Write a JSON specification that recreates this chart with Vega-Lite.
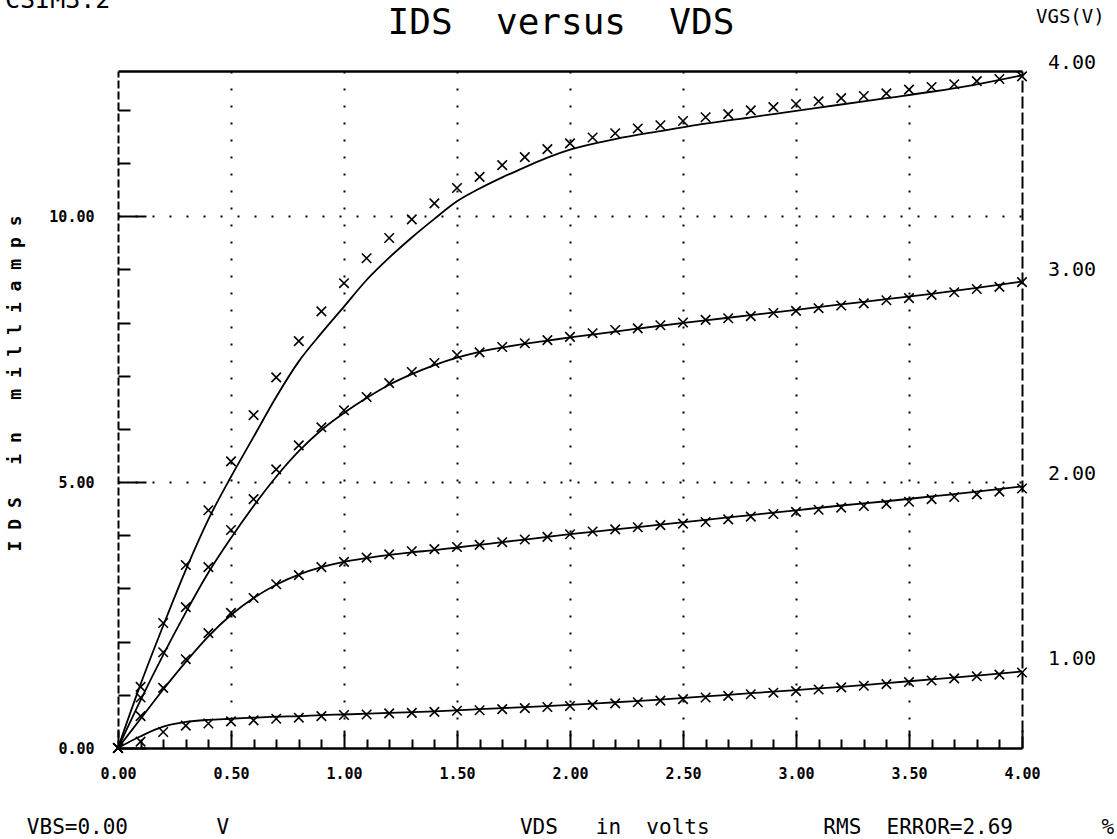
{
  "$schema": "https://vega.github.io/schema/vega-lite/v6.json",
  "width": 904,
  "height": 677,
  "autosize": {"type": "none"},
  "padding": {"left": 118, "top": 71, "right": 95, "bottom": 91},
  "background": "white",
  "config": {"view": {"stroke": null}},
  "datasets": {
    "model": [
      {"vgs":"4.00","vds":0,"ids":0},{"vgs":"4.00","vds":0.1,"ids":1.2},{"vgs":"4.00","vds":0.2,"ids":2.3},{"vgs":"4.00","vds":0.3,"ids":3.35},{"vgs":"4.00","vds":0.4,"ids":4.3},{"vgs":"4.00","vds":0.5,"ids":5.1},{"vgs":"4.00","vds":0.6,"ids":5.85},{"vgs":"4.00","vds":0.7,"ids":6.6},{"vgs":"4.00","vds":0.8,"ids":7.27},{"vgs":"4.00","vds":0.9,"ids":7.8},{"vgs":"4.00","vds":1.0,"ids":8.3},{"vgs":"4.00","vds":1.1,"ids":8.8},{"vgs":"4.00","vds":1.2,"ids":9.22},{"vgs":"4.00","vds":1.3,"ids":9.6},{"vgs":"4.00","vds":1.4,"ids":9.95},{"vgs":"4.00","vds":1.5,"ids":10.28},{"vgs":"4.00","vds":1.6,"ids":10.52},{"vgs":"4.00","vds":1.7,"ids":10.73},{"vgs":"4.00","vds":1.8,"ids":10.92},{"vgs":"4.00","vds":1.9,"ids":11.1},{"vgs":"4.00","vds":2.0,"ids":11.25},{"vgs":"4.00","vds":2.2,"ids":11.45},{"vgs":"4.00","vds":2.4,"ids":11.6},{"vgs":"4.00","vds":2.6,"ids":11.74},{"vgs":"4.00","vds":2.8,"ids":11.86},{"vgs":"4.00","vds":3.0,"ids":11.98},{"vgs":"4.00","vds":3.2,"ids":12.1},{"vgs":"4.00","vds":3.4,"ids":12.22},{"vgs":"4.00","vds":3.6,"ids":12.34},{"vgs":"4.00","vds":3.8,"ids":12.48},{"vgs":"4.00","vds":4.0,"ids":12.65},
      {"vgs":"3.00","vds":0,"ids":0},{"vgs":"3.00","vds":0.1,"ids":0.9},{"vgs":"3.00","vds":0.2,"ids":1.75},{"vgs":"3.00","vds":0.3,"ids":2.55},{"vgs":"3.00","vds":0.4,"ids":3.3},{"vgs":"3.00","vds":0.5,"ids":3.95},{"vgs":"3.00","vds":0.6,"ids":4.55},{"vgs":"3.00","vds":0.7,"ids":5.1},{"vgs":"3.00","vds":0.8,"ids":5.58},{"vgs":"3.00","vds":0.9,"ids":5.98},{"vgs":"3.00","vds":1.0,"ids":6.3},{"vgs":"3.00","vds":1.1,"ids":6.58},{"vgs":"3.00","vds":1.2,"ids":6.83},{"vgs":"3.00","vds":1.3,"ids":7.03},{"vgs":"3.00","vds":1.4,"ids":7.2},{"vgs":"3.00","vds":1.5,"ids":7.34},{"vgs":"3.00","vds":1.6,"ids":7.45},{"vgs":"3.00","vds":1.7,"ids":7.53},{"vgs":"3.00","vds":1.8,"ids":7.6},{"vgs":"3.00","vds":1.9,"ids":7.66},{"vgs":"3.00","vds":2.0,"ids":7.72},{"vgs":"3.00","vds":2.2,"ids":7.83},{"vgs":"3.00","vds":2.4,"ids":7.94},{"vgs":"3.00","vds":2.6,"ids":8.04},{"vgs":"3.00","vds":2.8,"ids":8.14},{"vgs":"3.00","vds":3.0,"ids":8.24},{"vgs":"3.00","vds":3.2,"ids":8.34},{"vgs":"3.00","vds":3.4,"ids":8.44},{"vgs":"3.00","vds":3.6,"ids":8.54},{"vgs":"3.00","vds":3.8,"ids":8.65},{"vgs":"3.00","vds":4.0,"ids":8.77},
      {"vgs":"2.00","vds":0,"ids":0},{"vgs":"2.00","vds":0.1,"ids":0.55},{"vgs":"2.00","vds":0.2,"ids":1.1},{"vgs":"2.00","vds":0.3,"ids":1.62},{"vgs":"2.00","vds":0.4,"ids":2.1},{"vgs":"2.00","vds":0.5,"ids":2.5},{"vgs":"2.00","vds":0.6,"ids":2.82},{"vgs":"2.00","vds":0.7,"ids":3.07},{"vgs":"2.00","vds":0.8,"ids":3.26},{"vgs":"2.00","vds":0.9,"ids":3.4},{"vgs":"2.00","vds":1.0,"ids":3.5},{"vgs":"2.00","vds":1.1,"ids":3.57},{"vgs":"2.00","vds":1.2,"ids":3.63},{"vgs":"2.00","vds":1.3,"ids":3.68},{"vgs":"2.00","vds":1.4,"ids":3.72},{"vgs":"2.00","vds":1.5,"ids":3.77},{"vgs":"2.00","vds":1.6,"ids":3.82},{"vgs":"2.00","vds":1.7,"ids":3.87},{"vgs":"2.00","vds":1.8,"ids":3.92},{"vgs":"2.00","vds":1.9,"ids":3.97},{"vgs":"2.00","vds":2.0,"ids":4.02},{"vgs":"2.00","vds":2.2,"ids":4.11},{"vgs":"2.00","vds":2.4,"ids":4.2},{"vgs":"2.00","vds":2.6,"ids":4.29},{"vgs":"2.00","vds":2.8,"ids":4.38},{"vgs":"2.00","vds":3.0,"ids":4.47},{"vgs":"2.00","vds":3.2,"ids":4.56},{"vgs":"2.00","vds":3.4,"ids":4.64},{"vgs":"2.00","vds":3.6,"ids":4.73},{"vgs":"2.00","vds":3.8,"ids":4.82},{"vgs":"2.00","vds":4.0,"ids":4.92},
      {"vgs":"1.00","vds":0,"ids":0},{"vgs":"1.00","vds":0.1,"ids":0.22},{"vgs":"1.00","vds":0.2,"ids":0.4},{"vgs":"1.00","vds":0.3,"ids":0.49},{"vgs":"1.00","vds":0.4,"ids":0.53},{"vgs":"1.00","vds":0.5,"ids":0.55},{"vgs":"1.00","vds":0.6,"ids":0.57},{"vgs":"1.00","vds":0.7,"ids":0.59},{"vgs":"1.00","vds":0.8,"ids":0.6},{"vgs":"1.00","vds":0.9,"ids":0.62},{"vgs":"1.00","vds":1.0,"ids":0.63},{"vgs":"1.00","vds":1.2,"ids":0.66},{"vgs":"1.00","vds":1.4,"ids":0.69},{"vgs":"1.00","vds":1.6,"ids":0.73},{"vgs":"1.00","vds":1.8,"ids":0.77},{"vgs":"1.00","vds":2.0,"ids":0.81},{"vgs":"1.00","vds":2.2,"ids":0.86},{"vgs":"1.00","vds":2.4,"ids":0.91},{"vgs":"1.00","vds":2.6,"ids":0.97},{"vgs":"1.00","vds":2.8,"ids":1.03},{"vgs":"1.00","vds":3.0,"ids":1.09},{"vgs":"1.00","vds":3.2,"ids":1.15},{"vgs":"1.00","vds":3.4,"ids":1.22},{"vgs":"1.00","vds":3.6,"ids":1.29},{"vgs":"1.00","vds":3.8,"ids":1.36},{"vgs":"1.00","vds":4.0,"ids":1.44}
    ],
    "measured": [
      {"vgs":"4.00","vds":0,"ids":0},{"vgs":"4.00","vds":0.1,"ids":1.15},{"vgs":"4.00","vds":0.2,"ids":2.35},{"vgs":"4.00","vds":0.3,"ids":3.44},{"vgs":"4.00","vds":0.4,"ids":4.47},{"vgs":"4.00","vds":0.5,"ids":5.39},{"vgs":"4.00","vds":0.6,"ids":6.26},{"vgs":"4.00","vds":0.7,"ids":6.97},{"vgs":"4.00","vds":0.8,"ids":7.65},{"vgs":"4.00","vds":0.9,"ids":8.21},{"vgs":"4.00","vds":1.0,"ids":8.74},{"vgs":"4.00","vds":1.1,"ids":9.21},{"vgs":"4.00","vds":1.2,"ids":9.59},{"vgs":"4.00","vds":1.3,"ids":9.94},{"vgs":"4.00","vds":1.4,"ids":10.24},{"vgs":"4.00","vds":1.5,"ids":10.53},{"vgs":"4.00","vds":1.6,"ids":10.74},{"vgs":"4.00","vds":1.7,"ids":10.96},{"vgs":"4.00","vds":1.8,"ids":11.11},{"vgs":"4.00","vds":1.9,"ids":11.26},{"vgs":"4.00","vds":2.0,"ids":11.37},{"vgs":"4.00","vds":2.1,"ids":11.48},{"vgs":"4.00","vds":2.2,"ids":11.56},{"vgs":"4.00","vds":2.3,"ids":11.65},{"vgs":"4.00","vds":2.4,"ids":11.71},{"vgs":"4.00","vds":2.5,"ids":11.79},{"vgs":"4.00","vds":2.6,"ids":11.86},{"vgs":"4.00","vds":2.7,"ids":11.92},{"vgs":"4.00","vds":2.8,"ids":11.99},{"vgs":"4.00","vds":2.9,"ids":12.05},{"vgs":"4.00","vds":3.0,"ids":12.11},{"vgs":"4.00","vds":3.1,"ids":12.16},{"vgs":"4.00","vds":3.2,"ids":12.22},{"vgs":"4.00","vds":3.3,"ids":12.26},{"vgs":"4.00","vds":3.4,"ids":12.31},{"vgs":"4.00","vds":3.5,"ids":12.38},{"vgs":"4.00","vds":3.6,"ids":12.43},{"vgs":"4.00","vds":3.7,"ids":12.48},{"vgs":"4.00","vds":3.8,"ids":12.54},{"vgs":"4.00","vds":3.9,"ids":12.58},{"vgs":"4.00","vds":4.0,"ids":12.63},
      {"vgs":"3.00","vds":0,"ids":0},{"vgs":"3.00","vds":0.1,"ids":0.95},{"vgs":"3.00","vds":0.2,"ids":1.8},{"vgs":"3.00","vds":0.3,"ids":2.65},{"vgs":"3.00","vds":0.4,"ids":3.4},{"vgs":"3.00","vds":0.5,"ids":4.1},{"vgs":"3.00","vds":0.6,"ids":4.68},{"vgs":"3.00","vds":0.7,"ids":5.24},{"vgs":"3.00","vds":0.8,"ids":5.69},{"vgs":"3.00","vds":0.9,"ids":6.03},{"vgs":"3.00","vds":1.0,"ids":6.35},{"vgs":"3.00","vds":1.1,"ids":6.6},{"vgs":"3.00","vds":1.2,"ids":6.86},{"vgs":"3.00","vds":1.3,"ids":7.07},{"vgs":"3.00","vds":1.4,"ids":7.24},{"vgs":"3.00","vds":1.5,"ids":7.39},{"vgs":"3.00","vds":1.6,"ids":7.44},{"vgs":"3.00","vds":1.7,"ids":7.54},{"vgs":"3.00","vds":1.8,"ids":7.61},{"vgs":"3.00","vds":1.9,"ids":7.67},{"vgs":"3.00","vds":2.0,"ids":7.73},{"vgs":"3.00","vds":2.1,"ids":7.8},{"vgs":"3.00","vds":2.2,"ids":7.86},{"vgs":"3.00","vds":2.3,"ids":7.89},{"vgs":"3.00","vds":2.4,"ids":7.95},{"vgs":"3.00","vds":2.5,"ids":8.0},{"vgs":"3.00","vds":2.6,"ids":8.05},{"vgs":"3.00","vds":2.7,"ids":8.08},{"vgs":"3.00","vds":2.8,"ids":8.12},{"vgs":"3.00","vds":2.9,"ids":8.18},{"vgs":"3.00","vds":3.0,"ids":8.22},{"vgs":"3.00","vds":3.1,"ids":8.27},{"vgs":"3.00","vds":3.2,"ids":8.32},{"vgs":"3.00","vds":3.3,"ids":8.36},{"vgs":"3.00","vds":3.4,"ids":8.42},{"vgs":"3.00","vds":3.5,"ids":8.46},{"vgs":"3.00","vds":3.6,"ids":8.52},{"vgs":"3.00","vds":3.7,"ids":8.57},{"vgs":"3.00","vds":3.8,"ids":8.63},{"vgs":"3.00","vds":3.9,"ids":8.67},{"vgs":"3.00","vds":4.0,"ids":8.76},
      {"vgs":"2.00","vds":0,"ids":0},{"vgs":"2.00","vds":0.1,"ids":0.6},{"vgs":"2.00","vds":0.2,"ids":1.13},{"vgs":"2.00","vds":0.3,"ids":1.67},{"vgs":"2.00","vds":0.4,"ids":2.16},{"vgs":"2.00","vds":0.5,"ids":2.54},{"vgs":"2.00","vds":0.6,"ids":2.82},{"vgs":"2.00","vds":0.7,"ids":3.08},{"vgs":"2.00","vds":0.8,"ids":3.25},{"vgs":"2.00","vds":0.9,"ids":3.4},{"vgs":"2.00","vds":1.0,"ids":3.5},{"vgs":"2.00","vds":1.1,"ids":3.58},{"vgs":"2.00","vds":1.2,"ids":3.64},{"vgs":"2.00","vds":1.3,"ids":3.7},{"vgs":"2.00","vds":1.4,"ids":3.74},{"vgs":"2.00","vds":1.5,"ids":3.78},{"vgs":"2.00","vds":1.6,"ids":3.82},{"vgs":"2.00","vds":1.7,"ids":3.87},{"vgs":"2.00","vds":1.8,"ids":3.92},{"vgs":"2.00","vds":1.9,"ids":3.97},{"vgs":"2.00","vds":2.0,"ids":4.02},{"vgs":"2.00","vds":2.1,"ids":4.07},{"vgs":"2.00","vds":2.2,"ids":4.11},{"vgs":"2.00","vds":2.3,"ids":4.15},{"vgs":"2.00","vds":2.4,"ids":4.19},{"vgs":"2.00","vds":2.5,"ids":4.22},{"vgs":"2.00","vds":2.6,"ids":4.25},{"vgs":"2.00","vds":2.7,"ids":4.3},{"vgs":"2.00","vds":2.8,"ids":4.35},{"vgs":"2.00","vds":2.9,"ids":4.4},{"vgs":"2.00","vds":3.0,"ids":4.44},{"vgs":"2.00","vds":3.1,"ids":4.48},{"vgs":"2.00","vds":3.2,"ids":4.52},{"vgs":"2.00","vds":3.3,"ids":4.55},{"vgs":"2.00","vds":3.4,"ids":4.59},{"vgs":"2.00","vds":3.5,"ids":4.63},{"vgs":"2.00","vds":3.6,"ids":4.68},{"vgs":"2.00","vds":3.7,"ids":4.72},{"vgs":"2.00","vds":3.8,"ids":4.77},{"vgs":"2.00","vds":3.9,"ids":4.82},{"vgs":"2.00","vds":4.0,"ids":4.88},
      {"vgs":"1.00","vds":0,"ids":0},{"vgs":"1.00","vds":0.1,"ids":0.12},{"vgs":"1.00","vds":0.2,"ids":0.3},{"vgs":"1.00","vds":0.3,"ids":0.42},{"vgs":"1.00","vds":0.4,"ids":0.46},{"vgs":"1.00","vds":0.5,"ids":0.5},{"vgs":"1.00","vds":0.6,"ids":0.52},{"vgs":"1.00","vds":0.7,"ids":0.55},{"vgs":"1.00","vds":0.8,"ids":0.57},{"vgs":"1.00","vds":0.9,"ids":0.6},{"vgs":"1.00","vds":1.0,"ids":0.62},{"vgs":"1.00","vds":1.1,"ids":0.63},{"vgs":"1.00","vds":1.2,"ids":0.65},{"vgs":"1.00","vds":1.3,"ids":0.66},{"vgs":"1.00","vds":1.4,"ids":0.68},{"vgs":"1.00","vds":1.5,"ids":0.7},{"vgs":"1.00","vds":1.6,"ids":0.71},{"vgs":"1.00","vds":1.7,"ids":0.73},{"vgs":"1.00","vds":1.8,"ids":0.75},{"vgs":"1.00","vds":1.9,"ids":0.77},{"vgs":"1.00","vds":2.0,"ids":0.79},{"vgs":"1.00","vds":2.1,"ids":0.81},{"vgs":"1.00","vds":2.2,"ids":0.84},{"vgs":"1.00","vds":2.3,"ids":0.86},{"vgs":"1.00","vds":2.4,"ids":0.89},{"vgs":"1.00","vds":2.5,"ids":0.92},{"vgs":"1.00","vds":2.6,"ids":0.95},{"vgs":"1.00","vds":2.7,"ids":0.98},{"vgs":"1.00","vds":2.8,"ids":1.01},{"vgs":"1.00","vds":2.9,"ids":1.04},{"vgs":"1.00","vds":3.0,"ids":1.07},{"vgs":"1.00","vds":3.1,"ids":1.1},{"vgs":"1.00","vds":3.2,"ids":1.14},{"vgs":"1.00","vds":3.3,"ids":1.17},{"vgs":"1.00","vds":3.4,"ids":1.2},{"vgs":"1.00","vds":3.5,"ids":1.24},{"vgs":"1.00","vds":3.6,"ids":1.27},{"vgs":"1.00","vds":3.7,"ids":1.31},{"vgs":"1.00","vds":3.8,"ids":1.35},{"vgs":"1.00","vds":3.9,"ids":1.38},{"vgs":"1.00","vds":4.0,"ids":1.42}
    ]
  },
  "layer": [
    {
      "data": {"name": "measured"},
      "mark": {"type": "point", "shape": "M-1,-1L1,1M-1,1L1,-1", "size": 90, "filled": false, "color": "black", "strokeWidth": 1.6, "opacity": 1},
      "encoding": {
        "x": {"field": "vds", "type": "quantitative", "scale": {"domain": [0, 4], "nice": false},
          "axis": {"orient": "bottom",
            "values": [0,0.1,0.2,0.3,0.4,0.5,0.6,0.7,0.8,0.9,1,1.1,1.2,1.3,1.4,1.5,1.6,1.7,1.8,1.9,2,2.1,2.2,2.3,2.4,2.5,2.6,2.7,2.8,2.9,3,3.1,3.2,3.3,3.4,3.5,3.6,3.7,3.8,3.9,4],
            "labelExpr": "abs(datum.value*2-round(datum.value*2))<0.001 ? format(datum.value,'.2f') : ''",
            "labelFont": "DejaVu Sans Mono", "labelFontWeight": "bold", "labelFontSize": 15, "labelColor": "black",
            "labelPadding": 36, "labelFlush": false, "labelOverlap": false, "labelBound": false,
            "tickColor": "black", "tickWidth": 2,
            "tickSize": {"condition": {"test": "abs(datum.value*2-round(datum.value*2))<0.001", "value": -18}, "value": -9},
            "domainColor": "black", "domainWidth": 2.5,
            "grid": true, "gridColor": "black", "gridWidth": 2, "gridDash": [2, 15],
            "gridOpacity": {"condition": {"test": "abs(datum.value*2-round(datum.value*2))<0.001 && datum.value>0.01 && datum.value<3.99", "value": 1}, "value": 0},
            "title": "VBS=0.00\u00a0\u00a0\u00a0\u00a0\u00a0\u00a0\u00a0V\u00a0\u00a0\u00a0\u00a0\u00a0\u00a0\u00a0\u00a0\u00a0\u00a0\u00a0\u00a0\u00a0\u00a0\u00a0\u00a0\u00a0\u00a0\u00a0\u00a0\u00a0\u00a0\u00a0VDS\u00a0\u00a0\u00a0in\u00a0\u00a0volts\u00a0\u00a0\u00a0\u00a0\u00a0\u00a0\u00a0\u00a0\u00a0RMS\u00a0\u00a0ERROR=2.69\u00a0\u00a0\u00a0\u00a0\u00a0\u00a0\u00a0%",
            "titleFont": "DejaVu Sans Mono", "titleFontSize": 21, "titleFontWeight": "normal", "titleColor": "black", "titlePadding": 26}
        },
        "y": {"field": "ids", "type": "quantitative", "scale": {"domain": [0, 12.73], "nice": false},
          "axis": {"orient": "left",
            "values": [0,1,2,3,4,5,6,7,8,9,10,11,12],
            "labelExpr": "datum.value % 5 == 0 ? format(datum.value,'.2f') : ''",
            "labelFont": "DejaVu Sans Mono", "labelFontWeight": "bold", "labelFontSize": 15, "labelColor": "black",
            "labelPadding": 52, "labelFlush": false, "labelOverlap": false, "labelBound": false,
            "tickColor": "black", "tickWidth": 2,
            "tickSize": {"condition": {"test": "datum.value % 5 == 0", "value": -28}, "value": -12},
            "domainColor": "black", "domainWidth": 2, "domainDash": [8, 3],
            "grid": true, "gridColor": "black", "gridWidth": 2, "gridDash": [2, 15],
            "gridOpacity": {"condition": {"test": "datum.value == 5 || datum.value == 10", "value": 1}, "value": 0},
            "title": "I\u00a0D\u00a0S\u00a0\u00a0\u00a0i\u00a0n\u00a0\u00a0\u00a0m\u00a0i\u00a0l\u00a0l\u00a0i\u00a0a\u00a0m\u00a0p\u00a0s",
            "titleFont": "DejaVu Sans Mono", "titleFontSize": 18, "titleFontWeight": "bold", "titleColor": "black", "titlePadding": 24, "titleY": 312}
        }
      }
    },
    {
      "data": {"name": "model"},
      "mark": {"type": "line", "color": "black", "strokeWidth": 1.8, "interpolate": "monotone"},
      "encoding": {
        "x": {"field": "vds", "type": "quantitative", "scale": {"domain": [0, 4], "nice": false},
          "axis": {"orient": "top", "labels": false, "ticks": false, "grid": false, "title": null, "domainColor": "black", "domainWidth": 2.5}},
        "y": {"field": "ids", "type": "quantitative", "scale": {"domain": [0, 12.73], "nice": false},
          "axis": {"orient": "right", "labels": false, "ticks": false, "grid": false, "title": null, "domainColor": "black", "domainWidth": 2, "domainDash": [12, 4]}},
        "detail": {"field": "vgs"}
      }
    },
    {
      "data": {"name": "model"},
      "transform": [{"filter": "datum.vds == 4"}],
      "mark": {"type": "text", "font": "DejaVu Sans Mono", "fontSize": 20, "color": "black", "dx": 50, "dy": -12, "align": "center", "baseline": "middle"},
      "encoding": {
        "x": {"field": "vds", "type": "quantitative", "axis": null},
        "y": {"field": "ids", "type": "quantitative", "axis": null},
        "text": {"field": "vgs"}
      }
    },
    {
      "data": {"values": [{}]},
      "mark": {"type": "text", "font": "DejaVu Sans Mono", "fontSize": 36, "color": "black", "dx": -9, "dy": -37, "align": "center", "baseline": "alphabetic", "text": "IDS\u00a0\u00a0versus\u00a0\u00a0VDS"},
      "encoding": {
        "x": {"datum": 2, "type": "quantitative", "axis": null},
        "y": {"datum": 12.73, "type": "quantitative", "axis": null}
      }
    },
    {
      "data": {"values": [{}]},
      "mark": {"type": "text", "font": "DejaVu Sans Mono", "fontSize": 19, "color": "black", "dx": 14, "dy": -54, "align": "left", "baseline": "middle", "text": "VGS(V)"},
      "encoding": {
        "x": {"datum": 4, "type": "quantitative", "axis": null},
        "y": {"datum": 12.73, "type": "quantitative", "axis": null}
      }
    },
    {
      "data": {"values": [{}]},
      "mark": {"type": "text", "font": "DejaVu Sans Mono", "fontSize": 25, "color": "black", "dx": -113, "dy": -63, "align": "left", "baseline": "alphabetic", "text": "CSIM3.2"},
      "encoding": {
        "x": {"datum": 0, "type": "quantitative", "axis": null},
        "y": {"datum": 12.73, "type": "quantitative", "axis": null}
      }
    }
  ],
  "resolve": {"axis": {"x": "independent", "y": "independent"}}
}
